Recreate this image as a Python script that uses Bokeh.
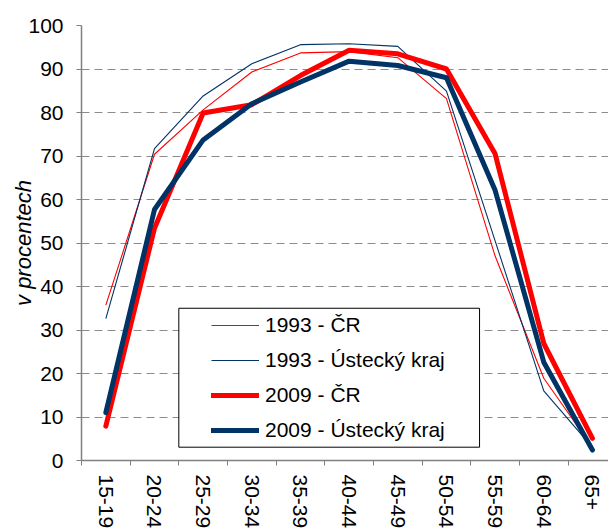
from bokeh.plotting import figure
from bokeh.models import Range1d, FixedTicker, Legend, LegendItem, BoxAnnotation
from bokeh.embed import file_html
from bokeh.resources import INLINE

categories = ["15-19", "20-24", "25-29", "30-34", "35-39", "40-44",
              "45-49", "50-54", "55-59", "60-64", "65+"]
cr_1993 = [35.7, 70.4, 80.6, 89.3, 93.7, 94.0, 92.6, 83.2, 47.0, 18.9, 3.0]
ustecky_1993 = [32.6, 71.7, 83.8, 91.2, 95.6, 95.8, 95.2, 84.9, 50.5, 16.0, 3.0]
cr_2009 = [7.9, 53.4, 79.9, 81.8, 88.5, 94.3, 93.5, 90.0, 70.5, 26.9, 5.1]
ustecky_2009 = [11.0, 57.7, 73.7, 82.0, 87.0, 91.8, 90.8, 88.0, 62.1, 22.6, 2.4]
y_ticks = [0, 10, 20, 30, 40, 50, 60, 70, 80, 90, 100]

n = len(categories)
centers = [i + 0.5 for i in range(n)]
boundaries = [float(i) for i in range(n + 1)]

FONT = "Liberation Sans"

p = figure(width=608, height=531, output_backend="svg", toolbar_location=None,
           x_range=Range1d(0, 10.83), y_range=Range1d(0, 100),
           min_border_left=81, min_border_right=0, min_border_top=25,
           min_border_bottom=71)
p.outline_line_color = None
p.background_fill_color = "white"
p.border_fill_color = "white"

# grid
p.xgrid.grid_line_color = None
p.ygrid.ticker = FixedTicker(ticks=y_ticks)
p.ygrid.grid_line_color = "#8c8c8c"
p.ygrid.grid_line_dash = "8 5"
p.ygrid.grid_line_width = 1

# y axis
p.yaxis.ticker = FixedTicker(ticks=y_ticks)
p.yaxis.axis_line_color = "#808080"
p.yaxis.axis_line_width = 1.5
p.yaxis.major_tick_line_color = "#808080"
p.yaxis.major_tick_out = 5
p.yaxis.major_tick_in = 0
p.yaxis.minor_tick_line_color = None
p.yaxis.major_label_text_font = FONT
p.yaxis.major_label_text_font_size = "21px"
p.yaxis.major_label_text_color = "black"
p.yaxis.major_label_standoff = 13
p.yaxis.axis_label = "v procentech"
p.yaxis.axis_label_text_font = FONT
p.yaxis.axis_label_text_font_style = "italic"
p.yaxis.axis_label_text_font_size = "22px"
p.yaxis.axis_label_text_color = "black"
p.yaxis.axis_label_standoff = -11

# x axis
p.xaxis.ticker = FixedTicker(ticks=centers, minor_ticks=boundaries)
p.xaxis.major_label_overrides = {c: lab for c, lab in zip(centers, categories)}
p.xaxis.major_label_orientation = "vertical"
p.xaxis.axis_line_color = "#808080"
p.xaxis.axis_line_width = 1.5
p.xaxis.major_tick_line_color = None
p.xaxis.major_tick_out = 5
p.xaxis.major_tick_in = 0
p.xaxis.minor_tick_line_color = "#808080"
p.xaxis.minor_tick_out = 5
p.xaxis.minor_tick_in = 0
p.xaxis.major_label_text_font = FONT
p.xaxis.major_label_text_font_size = "21px"
p.xaxis.major_label_text_color = "black"
p.xaxis.major_label_standoff = 9

r1 = p.line(centers, cr_1993, line_color="#FF0000", line_width=1.1)
r2 = p.line(centers, ustecky_1993, line_color="#003366", line_width=1.1)
r3 = p.line(centers, cr_2009, line_color="#FF0000", line_width=5,
            line_join="round", line_cap="round")
r4 = p.line(centers, ustecky_2009, line_color="#003366", line_width=5,
            line_join="round", line_cap="round")

box = BoxAnnotation(left=2.0, right=8.18, bottom=3.06, top=35.0,
                    fill_color="white", fill_alpha=1.0,
                    line_color="black", line_width=1, line_alpha=1.0)
p.add_layout(box)

legend = Legend(items=[
    LegendItem(label="1993 - ČR", renderers=[r1]),
    LegendItem(label="1993 - Ústecký kraj", renderers=[r2]),
    LegendItem(label="2009 - ČR", renderers=[r3]),
    LegendItem(label="2009 - Ústecký kraj", renderers=[r4]),
], location=(130, 13))
legend.margin = 0
legend.padding = 1
legend.spacing = 1
legend.border_line_color = None
legend.background_fill_alpha = 0
legend.glyph_width = 48
legend.glyph_height = 34
legend.label_height = 34
legend.label_standoff = 6
legend.label_text_font = FONT
legend.label_text_font_size = "21px"
legend.label_text_color = "black"
p.add_layout(legend, "center")

open("out.html", "w").write(file_html(p, INLINE))
